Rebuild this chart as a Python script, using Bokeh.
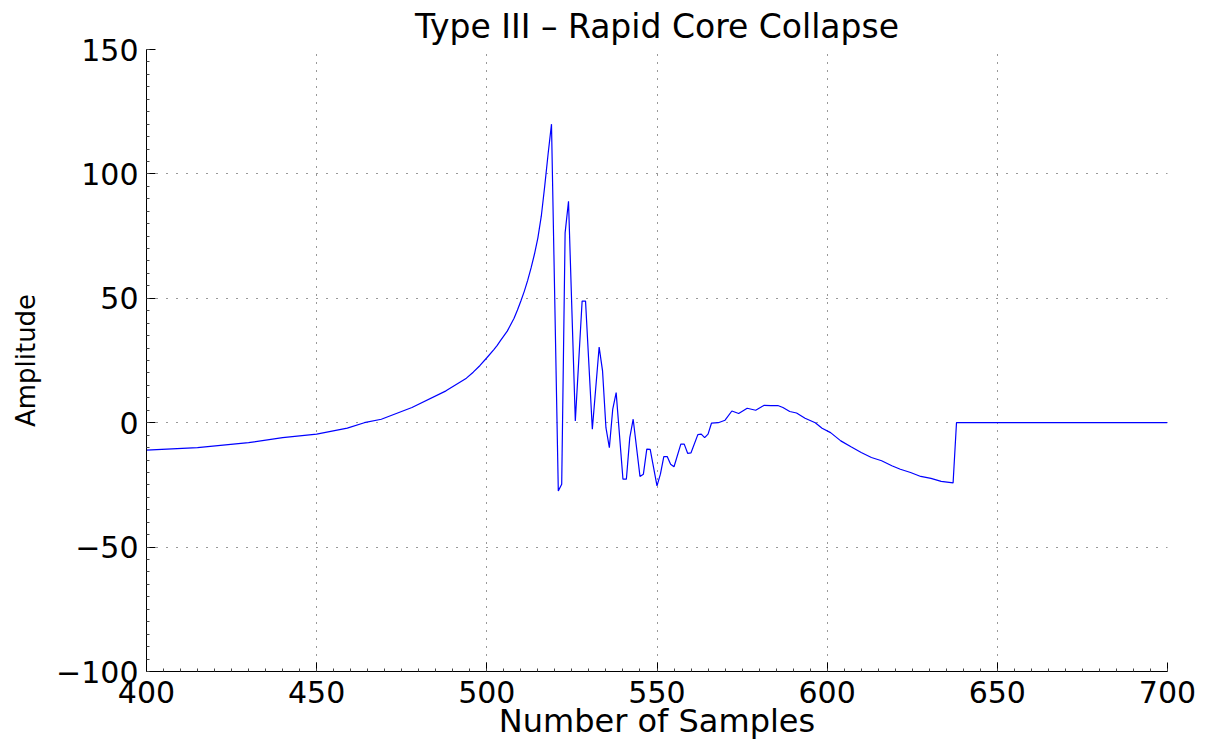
from bokeh.plotting import figure
from bokeh.models import Range1d, FixedTicker
from bokeh.embed import file_html
from bokeh.resources import INLINE

samples = [400, 415, 430, 440, 450, 459, 464, 469, 478, 488, 494, 496, 498, 500, 502, 503, 504,
           506, 508, 509, 510, 511, 512, 513, 514, 515, 516, 517, 518, 519, 521, 522, 523, 524,
           526, 528, 529, 531, 533, 534,
           535, 536, 537, 538, 540, 541, 542, 543, 545, 546, 547, 548, 550, 551, 552, 553,
           554, 555, 557, 558, 559, 560, 562, 563, 564, 565, 566, 568, 570, 572, 574, 576.5,
           579, 581.5, 583.5, 585.5, 587, 589, 591, 593.5, 596.5, 598.5, 601, 604, 607, 610,
           613, 616, 619, 621.5, 624.5, 627.5, 630.5, 633.5, 637, 638, 700]
amplitude = [-11, -10, -8, -6, -4.6, -2.2, 0, 1.4, 6.1, 12.8, 17.9, 20.3, 23, 26.1, 29.3, 31, 33,
             36.8, 42, 45.3, 48.9, 52.8, 57.2, 62.2, 67.8, 74.3, 83, 95, 108, 120, -27.4, -24.7, 76.3, 89,
             0.7, 48.9, 48.9, -2.6, 30.4, 20.8,
             -2, -10, 5.5, 12.1, -22.7, -22.7, -6, 1.4, -21.6, -20.7, -10.6, -10.7, -25.4, -20.7, -13.6, -13.6,
             -16.7, -17.7, -8.6, -8.6, -12.3, -12.1, -4.8, -4.6, -6, -4.6, -0.2, 0, 1, 4.7, 3.7, 5.8,
             5, 7, 6.9, 6.9, 6.1, 4.5, 3.9, 1.8, 0, -2.2, -4, -7.3, -9.7, -12,
             -14, -15.3, -17.3, -18.7, -20, -21.6, -22.4, -23.6, -24.2, 0, 0]

x_ticks = [400, 450, 500, 550, 600, 650, 700]
y_ticks = [-100, -50, 0, 50, 100, 150]
y_tick_labels = {-100: "\u2212100", -50: "\u221250", 0: "0", 50: "50", 100: "100", 150: "150"}

FONT = "DejaVu Sans"

p = figure(width=1208, height=743, output_backend="svg", toolbar_location=None,
           x_range=Range1d(400, 700), y_range=Range1d(-100, 150),
           title="Type III \u2013 Rapid Core Collapse",
           x_axis_label="Number of Samples", y_axis_label="Amplitude")
p.min_border_left = 146
p.min_border_right = 41
p.min_border_top = 48
p.min_border_bottom = 72
p.outline_line_color = None
p.background_fill_color = "white"
p.border_fill_color = "white"

p.title.align = "center"
p.title.text_font = FONT
p.title.text_font_size = "33px"
p.title.text_font_style = "normal"
p.title.text_color = "black"
p.title.standoff = 8

p.line(samples, amplitude, line_color="#0000ff", line_width=1.2)

p.xaxis.ticker = FixedTicker(ticks=x_ticks, minor_ticks=list(range(400, 701, 5)))
p.yaxis.ticker = FixedTicker(ticks=y_ticks, minor_ticks=list(range(-100, 151, 5)))
p.yaxis.major_label_overrides = y_tick_labels

for ax in (p.xaxis, p.yaxis):
    ax.axis_line_color = "black"
    ax.axis_line_width = 1
    ax.major_tick_in = 9
    ax.major_tick_out = 0
    ax.minor_tick_in = 3
    ax.minor_tick_out = 0
    ax.major_tick_line_color = "black"
    ax.minor_tick_line_color = "#444444"
    ax.major_label_text_font = FONT
    ax.major_label_text_font_size = "30px"
    ax.major_label_text_color = "black"
    ax.axis_label_text_font = FONT
    ax.axis_label_text_font_style = "normal"
    ax.axis_label_text_color = "black"

p.xaxis.major_label_standoff = 9
p.xaxis.axis_label_text_font_size = "32px"
p.xaxis.axis_label_standoff = -4
p.yaxis.major_label_standoff = 8
p.yaxis.axis_label_text_font_size = "26px"
p.yaxis.axis_label_standoff = 12

p.xgrid.grid_line_color = "#333333"
p.xgrid.grid_line_dash = "1 7"
p.ygrid.grid_line_color = "#333333"
p.ygrid.grid_line_dash = "1 9"
p.xgrid.grid_line_width = 1
p.ygrid.grid_line_width = 1

open("out.html", "w").write(file_html(p, INLINE))
